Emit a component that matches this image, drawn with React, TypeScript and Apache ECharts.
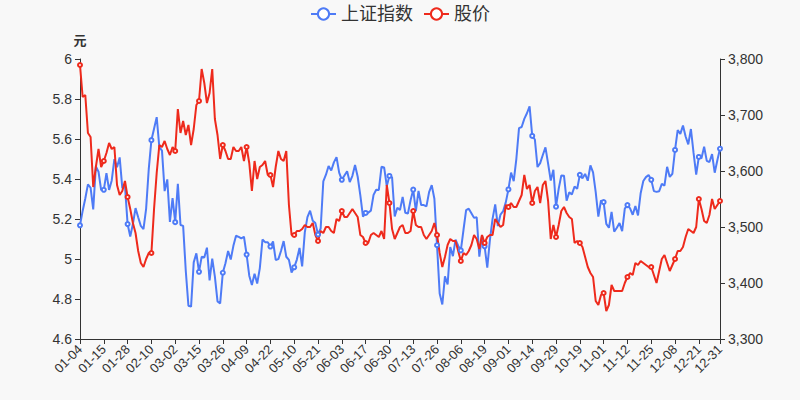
import React, { useEffect, useRef } from "react";
import * as echarts from "echarts";

const dates: string[] = [
  "01-04","01-05","01-06","01-07","01-08","01-11","01-12","01-13","01-14","01-15","01-18","01-19","01-20","01-21","01-22","01-25","01-26","01-27","01-28","01-29",
  "02-01","02-02","02-03","02-04","02-05","02-08","02-09","02-10","02-18","02-19","02-22","02-23","02-24","02-25","02-26",
  "03-01","03-02","03-03","03-04","03-05","03-08","03-09","03-10","03-11","03-12","03-15","03-16","03-17","03-18","03-19","03-22","03-23","03-24","03-25","03-26","03-29","03-30","03-31",
  "04-01","04-02","04-06","04-07","04-08","04-09","04-12","04-13","04-14","04-15","04-16","04-19","04-20","04-21","04-22","04-23","04-26","04-27","04-28","04-29","04-30",
  "05-06","05-07","05-10","05-11","05-12","05-13","05-14","05-17","05-18","05-19","05-20","05-21","05-24","05-25","05-26","05-27","05-28","05-31",
  "06-01","06-02","06-03","06-04","06-07","06-08","06-09","06-10","06-11","06-15","06-16","06-17","06-18","06-21","06-22","06-23","06-24","06-25","06-28","06-29","06-30",
  "07-01","07-02","07-05","07-06","07-07","07-08","07-09","07-12","07-13","07-14","07-15","07-16","07-19","07-20","07-21","07-22","07-23","07-26","07-27","07-28","07-29","07-30",
  "08-02","08-03","08-04","08-05","08-06","08-09","08-10","08-11","08-12","08-13","08-16","08-17","08-18","08-19","08-20","08-23","08-24","08-25","08-26","08-27","08-30","08-31",
  "09-01","09-02","09-03","09-06","09-07","09-08","09-09","09-10","09-13","09-14","09-15","09-16","09-17","09-22","09-23","09-24","09-27","09-28","09-29","09-30",
  "10-08","10-11","10-12","10-13","10-14","10-15","10-18","10-19","10-20","10-21","10-22","10-25","10-26","10-27","10-28","10-29",
  "11-01","11-02","11-03","11-04","11-05","11-08","11-09","11-10","11-11","11-12","11-15","11-16","11-17","11-18","11-19","11-22","11-23","11-24","11-25","11-26","11-29","11-30",
  "12-01","12-02","12-03","12-06","12-07","12-08","12-09","12-10","12-13","12-14","12-15","12-16","12-17","12-20","12-21","12-22","12-23","12-24","12-27","12-28","12-29","12-30","12-31"
];

const indexValues: number[] = [
  3502.96,3528.68,3550.88,3576.2,3570.11,3531.5,3608.34,3598.65,3565.9,3566.38,3596.22,3566.25,3583.09,3621.26,3606.75,3624.24,3569.43,3573.34,3505.18,3483.07,
  3505.28,3533.68,3517.31,3501.86,3496.33,3532.44,3603.49,3655.09,3675.36,3696.17,3642.44,3636.36,3564.08,3585.05,3509.08,
  3551.4,3508.59,3576.9,3503.49,3501.99,3421.41,3359.29,3357.74,3436.83,3453.08,3419.95,3446.73,3445.55,3463.07,3404.66,3443.44,3411.51,3367.06,3363.59,3418.33,3435.3,3457.07,3441.91,
  3466.33,3484.39,3482.48,3479.63,3482.56,3450.68,3412.95,3396.47,3416.6,3398.99,3426.62,3477.55,3472.94,3472.93,3465.11,3474.17,3441.17,3442.61,3457.07,3474.9,3446.86,
  3441.28,3418.87,3427.99,3441.85,3462.75,3429.54,3490.38,3517.62,3529.01,3510.96,3506.94,3486.56,3497.28,3581.34,3593.36,3608.85,3600.78,3615.48,
  3624.71,3597.14,3584.22,3591.84,3599.54,3580.11,3591.4,3610.86,3589.75,3556.56,3518.33,3525.1,3525.6,3529.18,3557.41,3566.65,3566.22,3607.56,3606.37,3573.18,3591.2,
  3588.78,3518.76,3534.32,3530.26,3553.72,3525.5,3524.09,3547.84,3566.73,3528.5,3564.59,3539.3,3539.12,3536.79,3562.31,3574.73,3550.4,3467.44,3381.18,3361.59,3411.72,3397.36,
  3464.29,3447.99,3477.22,3466.56,3458.23,3494.63,3529.93,3532.62,3524.74,3516.3,3517.35,3446.98,3485.29,3465.55,3427.33,3477.13,3514.47,3540.38,3501.66,3522.16,3528.15,3543.94,
  3567.1,3597.04,3581.73,3621.86,3676.59,3678.62,3693.13,3703.11,3715.37,3662.6,3656.22,3607.09,3613.97,3628.49,3642.22,3613.07,3582.83,3602.22,3536.29,3568.17,
  3592.17,3591.71,3546.94,3561.76,3558.28,3572.37,3568.14,3593.15,3587.0,3594.78,3582.6,3609.86,3597.64,3562.31,3518.42,3547.34,
  3544.48,3505.63,3498.54,3526.87,3491.57,3498.63,3507.0,3492.46,3532.79,3539.1,3533.3,3521.79,3537.37,3520.71,3560.37,3582.08,3589.09,3592.7,3584.18,3564.09,3562.7,3563.89,
  3576.89,3573.84,3607.43,3589.31,3595.09,3637.57,3673.04,3666.35,3681.08,3661.53,3647.63,3675.02,3632.36,3593.6,3625.13,3622.62,3643.34,3618.05,3615.97,3630.11,3597.0,3619.19,3639.78
];

const priceValues: number[] = [
  5.97,5.81,5.82,5.63,5.61,5.36,5.46,5.55,5.46,5.49,5.53,5.58,5.55,5.56,5.37,5.32,5.34,5.39,5.31,5.25,
  5.18,5.13,5.04,4.98,4.96,5.0,5.03,5.03,5.25,5.43,5.57,5.56,5.59,5.55,5.52,
  5.56,5.54,5.75,5.63,5.69,5.62,5.67,5.57,5.65,5.77,5.79,5.95,5.88,5.78,5.83,5.95,5.7,5.62,5.5,5.57,5.54,5.5,5.5,
  5.56,5.54,5.54,5.56,5.49,5.56,5.48,5.34,5.49,5.4,5.46,5.47,5.49,5.42,5.42,5.36,5.46,5.54,5.5,5.49,5.54,
  5.27,5.12,5.12,5.14,5.14,5.15,5.17,5.16,5.16,5.18,5.12,5.09,5.14,5.13,5.16,5.16,5.14,5.13,
  5.2,5.19,5.24,5.21,5.21,5.23,5.25,5.23,5.21,5.12,5.11,5.08,5.08,5.12,5.13,5.12,5.11,5.14,5.1,5.37,5.28,
  5.15,5.1,5.13,5.16,5.17,5.13,5.13,5.14,5.24,5.17,5.16,5.16,5.12,5.1,5.12,5.14,5.18,5.12,5.03,4.96,5.01,5.07,
  5.1,5.09,5.09,5.04,4.99,5.03,5.02,5.04,5.07,5.12,5.1,5.05,5.12,5.08,5.11,5.12,5.12,5.2,5.18,5.16,5.17,5.27,
  5.26,5.28,5.26,5.26,5.29,5.32,5.42,5.35,5.37,5.28,5.34,5.36,5.28,5.37,5.39,5.29,5.1,5.17,5.11,5.17,
  5.24,5.26,5.23,5.21,5.2,5.08,5.09,5.08,5.06,5.01,4.96,4.93,4.91,4.79,4.77,4.82,
  4.83,4.74,4.77,4.87,4.84,4.84,4.84,4.84,4.88,4.91,4.93,4.92,4.98,4.97,4.99,4.98,4.97,4.96,4.96,4.92,4.88,4.94,
  5.0,5.02,4.98,4.94,4.97,5.0,5.04,5.04,5.06,5.11,5.15,5.14,5.13,5.16,5.3,5.25,5.19,5.18,5.22,5.3,5.25,5.27,5.29
];

const leftTicks = { min: 4.6, max: 6, step: 0.2 };
const rightTicks = { min: 3300, max: 3800, step: 100 };
const seriesNames = ["上证指数", "股价"];

export default function App() {
  const ref = useRef<HTMLDivElement>(null);
  useEffect(() => {
    if (!ref.current) return;
    const chart = echarts.init(ref.current, null, { renderer: "svg" });
    const axisColor = "#333";
    const font = "'Liberation Sans', Arial, 'Noto Sans CJK SC', sans-serif";
    chart.setOption({
      animation: false,
      backgroundColor: "#f8f8f8",
      textStyle: { fontFamily: font },
      color: ["#4e7bf6", "#ee2a1c"],
      legend: {
        top: 0,
        left: "center",
        itemWidth: 25,
        itemHeight: 14,
        itemGap: 10,
        textStyle: { fontSize: 18, color: "#333", fontFamily: font },
        data: seriesNames,
      },
      grid: { left: 80, right: 80, top: 59, bottom: 61, containLabel: false },
      xAxis: {
        type: "category",
        boundaryGap: false,
        data: dates,
        axisLine: { lineStyle: { color: axisColor } },
        axisTick: { show: true, lineStyle: { color: axisColor } },
        axisLabel: {
          interval: 8,
          showMaxLabel: true,
          rotate: 45,
          color: "#333",
          fontSize: 13,
          margin: 8,
        },
        splitLine: { show: false },
      },
      yAxis: [
        {
          type: "value",
          name: "元",
          nameGap: 12,
          nameTextStyle: { color: "#333", fontSize: 13, fontWeight: "bold" },
          min: leftTicks.min,
          max: leftTicks.max,
          interval: leftTicks.step,
          axisLine: { show: true, lineStyle: { color: axisColor } },
          axisTick: { show: true, lineStyle: { color: axisColor } },
          axisLabel: { color: "#333", fontSize: 14 },
          splitLine: { show: false },
        },
        {
          type: "value",
          position: "right",
          min: rightTicks.min,
          max: rightTicks.max,
          interval: rightTicks.step,
          axisLine: { show: true, lineStyle: { color: axisColor } },
          axisTick: { show: true, lineStyle: { color: axisColor } },
          axisLabel: { color: "#333", fontSize: 14 },
          splitLine: { show: false },
        },
      ],
      series: [
        {
          name: seriesNames[0],
          type: "line",
          yAxisIndex: 1,
          data: indexValues,
          symbol: "emptyCircle",
          symbolSize: 4,
          itemStyle: { borderWidth: 1 },
          lineStyle: { width: 2 },
        },
        {
          name: seriesNames[1],
          type: "line",
          yAxisIndex: 0,
          data: priceValues,
          symbol: "emptyCircle",
          symbolSize: 4,
          itemStyle: { borderWidth: 1 },
          lineStyle: { width: 2 },
        },
      ],
    });
    return () => chart.dispose();
  }, []);
  return (
    <div
      ref={ref}
      style={{ position: "absolute", left: 0, top: 0, width: 800, height: 400 }}
    />
  );
}
